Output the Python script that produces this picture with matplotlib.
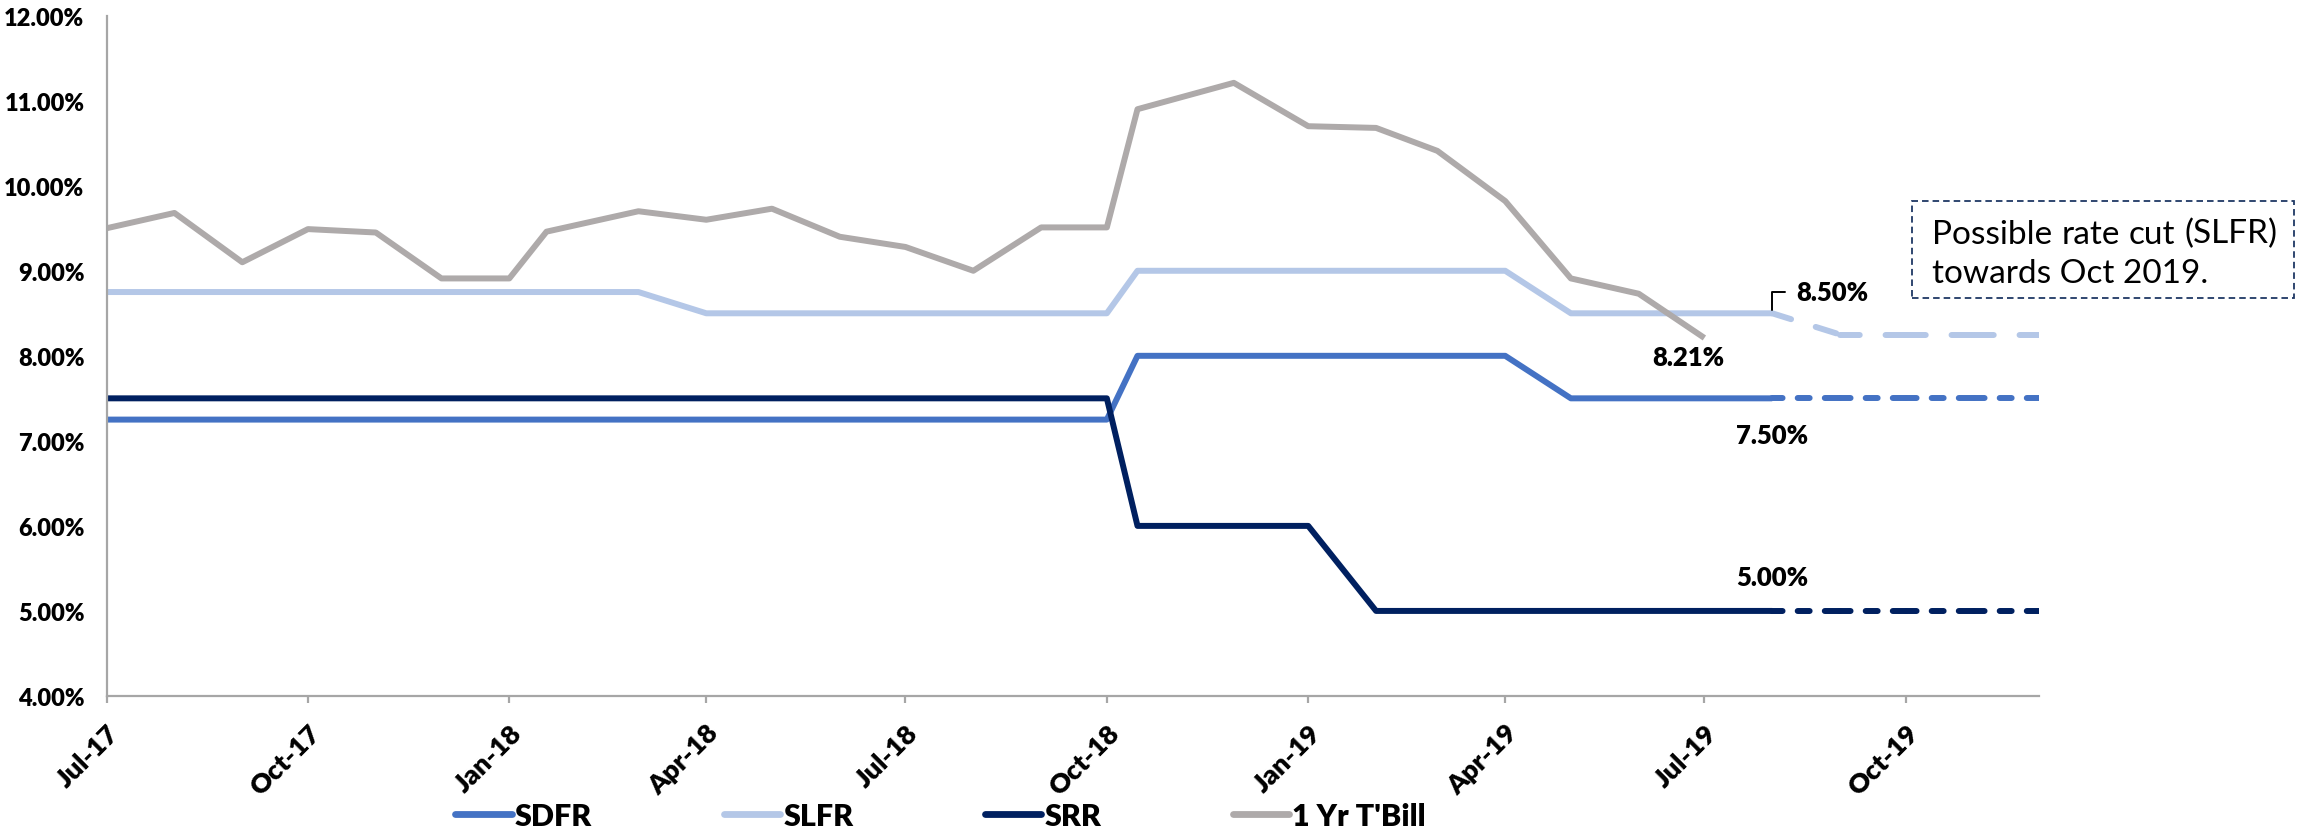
import matplotlib
matplotlib.use("Agg")
import matplotlib.pyplot as plt
from matplotlib.lines import Line2D
from matplotlib.patches import Rectangle
from matplotlib.ticker import FuncFormatter
import pandas as pd

plt.rcParams["font.family"] = ["Lato", "DejaVu Sans"]
plt.rcParams["lines.scale_dashes"] = False

# ---- data -------------------------------------------------------------
dates = pd.to_datetime([
    "2017-07-01", "2017-08-01", "2017-09-01", "2017-10-01", "2017-11-01",
    "2017-12-01", "2018-01-01", "2018-01-18", "2018-03-01", "2018-04-01",
    "2018-05-01", "2018-06-01", "2018-07-01", "2018-08-01", "2018-09-01",
    "2018-10-01", "2018-10-15", "2018-11-28", "2019-01-01", "2019-02-01",
    "2019-03-01", "2019-04-01", "2019-05-01", "2019-06-01", "2019-07-01",
    "2019-08-01",
])
sdfr = [7.25, 7.25, 7.25, 7.25, 7.25, 7.25, 7.25, 7.25, 7.25, 7.25,
        7.25, 7.25, 7.25, 7.25, 7.25, 7.25, 8.00, 8.00, 8.00, 8.00,
        8.00, 8.00, 7.50, 7.50, 7.50, 7.50]
slfr = [8.75, 8.75, 8.75, 8.75, 8.75, 8.75, 8.75, 8.75, 8.75, 8.50,
        8.50, 8.50, 8.50, 8.50, 8.50, 8.50, 9.00, 9.00, 9.00, 9.00,
        9.00, 9.00, 8.50, 8.50, 8.50, 8.50]
srr = [7.50, 7.50, 7.50, 7.50, 7.50, 7.50, 7.50, 7.50, 7.50, 7.50,
       7.50, 7.50, 7.50, 7.50, 7.50, 7.50, 6.00, 6.00, 6.00, 5.00,
       5.00, 5.00, 5.00, 5.00, 5.00, 5.00]
tbill = [9.50, 9.68, 9.10, 9.49, 9.45, 8.91, 8.91, 9.46, 9.70, 9.60,
         9.73, 9.40, 9.28, 9.00, 9.51, 9.51, 10.90, 11.21, 10.70, 10.68,
         10.41, 9.82, 8.91, 8.73, 8.21]

# outlook to the end of 2019
proj_dates = pd.to_datetime(["2019-08-01", "2019-09-01", "2019-10-01",
                             "2019-11-01", "2019-12-01"])
sdfr_proj = [7.50, 7.50, 7.50, 7.50, 7.50]
slfr_proj = [8.50, 8.25, 8.25, 8.25, 8.25]
srr_proj = [5.00, 5.00, 5.00, 5.00, 5.00]

series_names = ["SDFR", "SLFR", "SRR", "1 Yr T'Bill"]
x_ticks = pd.date_range("2017-07-01", "2019-10-01", freq="3MS")
y_ticks = [4, 5, 6, 7, 8, 9, 10, 11, 12]

# ---- styles -----------------------------------------------------------
C_SDFR = "#4472C4"
C_SLFR = "#B4C7E7"
C_SRR = "#002060"
C_TBILL = "#AEAAAA"
AXIS_GREY = "#A6A6A6"
LW = 4.3
LABEL_FS = 18.5
XLABEL_FS = 19.5
YLABEL_FS = 17
SHORT_DASH = (0, (7.6, 10.9, 8.6, 10.9, 11.5, 40.0))
LONG_DASH = (0, (14.2, 18.6, 15.5, 40.0))

fig = plt.figure(figsize=(22.97, 8.37), dpi=100)
ax = fig.add_axes([0.0464, 0.1673, 0.8414, 0.8128])

line_kw = dict(lw=LW, solid_joinstyle="round", solid_capstyle="butt")
ax.plot(dates, sdfr, color=C_SDFR, **line_kw)
ax.plot(dates, slfr, color=C_SLFR, **line_kw)
ax.plot(dates, srr, color=C_SRR, **line_kw)
ax.plot(dates[:len(tbill)], tbill, color=C_TBILL, **line_kw)

# projected path, each month drawn as its own dashed piece
for vals, col, pattern in [(sdfr_proj, C_SDFR, SHORT_DASH),
                           (slfr_proj, C_SLFR, LONG_DASH),
                           (srr_proj, C_SRR, SHORT_DASH)]:
    for i in range(len(proj_dates) - 1):
        ax.plot(proj_dates[i:i + 2], vals[i:i + 2], color=col, lw=LW,
                linestyle=pattern, dash_capstyle="round")

# ---- axes -------------------------------------------------------------
ax.set_xlim(pd.Timestamp("2017-07-01"), pd.Timestamp("2019-12-01"))
ax.set_ylim(4, 12)
for side in ("top", "right"):
    ax.spines[side].set_visible(False)
for side in ("left", "bottom"):
    ax.spines[side].set_color(AXIS_GREY)
    ax.spines[side].set_linewidth(1.6)

ax.set_yticks(y_ticks)
ax.yaxis.set_major_formatter(FuncFormatter(lambda v, _: f"{v:.2f}%"))
ax.tick_params(axis="y", length=0, pad=16, labelsize=YLABEL_FS)
ax.set_xticks(x_ticks)
ax.set_xticklabels([d.strftime("%b-%y") for d in x_ticks])
ax.tick_params(axis="x", length=5.3, width=1.6, color=AXIS_GREY, pad=12,
               labelsize=XLABEL_FS)
for lbl in ax.get_xticklabels():
    lbl.set_rotation(45)
    lbl.set_rotation_mode("anchor")
    lbl.set_ha("right")
    lbl.set_va("top")
for lbl in ax.get_xticklabels() + ax.get_yticklabels():
    lbl.set_fontweight("heavy")

# ---- value labels -----------------------------------------------------
lab_kw = dict(textcoords="offset points", fontsize=LABEL_FS,
              fontweight="heavy", color="black")
ax.annotate(f"{slfr[-1]:.2f}%", xy=(dates[-1], slfr[-1]), xytext=(17.5, 15),
            ha="left", va="center",
            arrowprops=dict(arrowstyle="-", color="black", lw=1.4,
                            connectionstyle="angle,angleA=0,angleB=90,rad=0",
                            relpos=(0, 0.5), shrinkA=6, shrinkB=2.5),
            **lab_kw)
ax.annotate(f"{tbill[-1]:.2f}%", xy=(dates[len(tbill) - 1], tbill[-1]),
            xytext=(-11.8, -13.8), ha="center", va="center", **lab_kw)
ax.annotate(f"{sdfr[-1]:.2f}%", xy=(dates[-1], sdfr[-1]),
            xytext=(0, -26.6), ha="center", va="center", **lab_kw)
ax.annotate(f"{srr[-1]:.2f}%", xy=(dates[-1], srr[-1]),
            xytext=(0, 24.5), ha="center", va="center", **lab_kw)

# ---- legend -----------------------------------------------------------
handles = [Line2D([], [], color=c, lw=LW + 0.6, solid_capstyle="round")
           for c in (C_SDFR, C_SLFR, C_SRR, C_TBILL)]
fig.legend(handles, series_names, loc="center",
           bbox_to_anchor=(0.4095, 1 - 817 / 837), ncol=4, frameon=False,
           prop={"weight": "heavy", "size": 22}, handlelength=1.85,
           handletextpad=0.1, columnspacing=4.3, borderaxespad=0)

# ---- note box ---------------------------------------------------------
W, H = 2297, 837
fig.add_artist(Rectangle((1912 / W, 1 - 298.8 / H), (2294 - 1912) / W,
                         (298.8 - 202.2) / H, transform=fig.transFigure,
                         fill=False, ec="#1F3864", lw=1.3,
                         linestyle=(0, (4.7, 2.9))))

note_line1 = ["Possible", "rate", "cut", "(SLFR)"]
note_line2 = "towards Oct 2019."
NOTE_FS = 24
left_px, right_px = 1932, 2277
renderer = fig.canvas.get_renderer()
words = [fig.text(0, 0, w, fontsize=NOTE_FS, va="baseline", ha="left")
         for w in note_line1]
widths = [t.get_window_extent(renderer).width for t in words]
gap = (right_px - left_px - sum(widths)) / (len(words) - 1)
xpos = left_px
for t, w in zip(words, widths):
    t.set_position((xpos / W, 1 - 243.5 / H))
    xpos += w + gap
fig.text(left_px / W, 1 - 283 / H, note_line2, fontsize=NOTE_FS,
         va="baseline", ha="left")

fig.savefig("out.png", dpi=100)
